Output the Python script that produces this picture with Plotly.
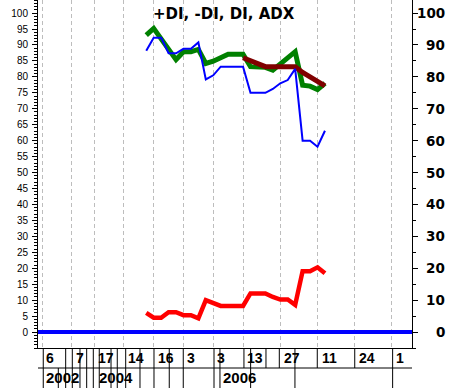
import plotly.graph_objects as go

# ---- data ----
weeks = [14, 15, 16, 17, 18, 19, 20, 21, 22, 23, 24, 25, 26, 27, 28, 29, 30, 31, 32, 33, 34, 35, 36, 37, 38]
plus_di = [88.2, 92.3, 92.3, 87.4, 87.4, 88.8, 88.8, 90.8, 79.2, 80.5, 83.2, 83.2, 83.2, 83.2,
           75.0, 75.0, 75.0, 76.2, 78.0, 79.0, 82.5, 60.0, 60.0, 58.1, 63.1]
minus_di = [6.0, 4.5, 4.5, 6.2, 6.2, 5.3, 5.3, 4.3, 10.0, 9.0, 8.2, 8.2, 8.2, 8.2,
            12.1, 12.1, 12.1, 11.0, 10.2, 10.2, 8.5, 19.1, 19.1, 20.3, 18.4]
di = [93.1, 95.2, 91.9, 88.6, 85.4, 87.9, 87.9, 88.6, 84.2, 84.9, 86.0, 87.1, 87.1, 87.1,
      83.2, 83.2, 83.0, 82.1, 84.0, 86.0, 87.9, 77.4, 77.1, 76.0, 78.0]
adx_weeks = [27, 28, 29, 30, 31, 32, 33, 34, 35, 36, 37, 38]
adx = [86.0, 85.0, 84.0, 83.2, 83.2, 83.2, 83.2, 83.2, 81.4, 80.0, 78.5, 77.2]

# ---- axis labels ----
grid_weeks = [0, 4, 7, 11, 15, 19, 23, 27, 32, 37, 42, 47]
day_labels = ["6", "7", "17", "14", "16", "3", "3", "13", "27", "11", "24", "1"]
year_labels = ["2002", "2004", "2006"]
year_pos = [0.2, 7.3, 23.9]
right_ticks = [0, 10, 20, 30, 40, 50, 60, 70, 80, 90, 100]
left_ticks = list(range(0, 101, 5))

# table divider positions (decoration of the date table under the plot)
both_rows = [0.17, 3.18, 4.07, 5.1, 6.0, 6.89, 7.69, 9.27, 10.11, 11.24, 13.16, 15.04,
             17.09, 18.97, 23.1, 23.9, 28.02, 33.97, 47.09]
label_row_only = [27.12, 30.08, 31.87, 36.97, 42.0]
year_row_only = [2.19]

XR = [-0.537, 49.69]
YR = [-5.0, 104.1]
PH = 348.0  # plot height px

fig = go.Figure()
fig.add_trace(go.Scatter(x=weeks, y=minus_di, mode="lines",
                         line=dict(color="#ff0000", width=4.5), name="-DI"))
fig.add_trace(go.Scatter(x=weeks, y=di, mode="lines",
                         line=dict(color="#008000", width=5), name="DI"))
fig.add_trace(go.Scatter(x=adx_weeks, y=adx, mode="lines",
                         line=dict(color="#800000", width=5), name="ADX"))
fig.add_trace(go.Scatter(x=weeks, y=plus_di, mode="lines",
                         line=dict(color="#0000ff", width=2), name="+DI"))
fig.add_trace(go.Scatter(x=[XR[0]], y=[None], yaxis="y2", showlegend=False, hoverinfo="skip"))

shapes = []
# zero line
shapes.append(dict(type="line", xref="paper", yref="y", x0=0, x1=1, y0=0, y1=0,
                   line=dict(color="#0000ff", width=4)))
# divider between rows
shapes.append(dict(type="line", xref="paper", yref="paper", x0=0, x1=1,
                   y0=-20 / PH, y1=-20 / PH, line=dict(color="black", width=1)))
for xv in both_rows:
    shapes.append(dict(type="line", xref="x", yref="paper", x0=xv, x1=xv,
                       y0=0, y1=-40 / PH, line=dict(color="black", width=1)))
for xv in label_row_only:
    shapes.append(dict(type="line", xref="x", yref="paper", x0=xv, x1=xv,
                       y0=0, y1=-20 / PH, line=dict(color="black", width=1)))
for xv in year_row_only:
    shapes.append(dict(type="line", xref="x", yref="paper", x0=xv, x1=xv,
                       y0=-20 / PH, y1=-40 / PH, line=dict(color="black", width=1)))

ann = []
for xv, t in zip(grid_weeks, day_labels):
    ann.append(dict(x=xv, y=0, xref="x", yref="paper", text=t, showarrow=False,
                    xanchor="left", yanchor="middle", xshift=2, yshift=-10,
                    font=dict(family="Liberation Sans, Arial", size=14, color="black", weight="bold")))
for xv, t in zip(year_pos, year_labels):
    ann.append(dict(x=xv, y=0, xref="x", yref="paper", text=t, showarrow=False,
                    xanchor="left", yanchor="middle", xshift=1, yshift=-29,
                    font=dict(family="Liberation Sans, Arial", size=15, color="black", weight="bold")))
for v in right_ticks:
    ann.append(dict(x=1, y=v, xref="paper", yref="y", text=str(v), showarrow=False,
                    xanchor="right", yanchor="middle", xshift=35,
                    font=dict(family="DejaVu Sans", size=13.5, color="black", weight="bold")))
ann.append(dict(x=0.5, y=1, xref="paper", yref="paper", text="+DI, -DI, DI, ADX",
                showarrow=False, xanchor="center", yanchor="middle", yshift=-14, xshift=-1,
                font=dict(family="DejaVu Sans", size=15, color="black", weight="bold")))

fig.update_layout(
    width=450, height=388,
    margin=dict(l=38, r=38, t=0, b=40, pad=0),
    paper_bgcolor="white", plot_bgcolor="white",
    showlegend=False,
    xaxis=dict(range=XR, tickmode="array", tickvals=grid_weeks, showticklabels=False,
               ticks="", showgrid=True, gridcolor="#bdbdbd", gridwidth=1, griddash="4px,3px",
               zeroline=False, showline=True, linecolor="black", linewidth=1, fixedrange=True),
    yaxis=dict(range=YR, tickmode="array", tickvals=left_ticks,
               ticktext=[str(v) for v in left_ticks],
               ticks="outside", ticklen=5, tickcolor="black", tickwidth=1,
               minor=dict(tickmode="linear", tick0=0, dtick=1, ticks="outside",
                          ticklen=3, tickcolor="black"),
               showgrid=False, zeroline=False, showline=True, linecolor="black", linewidth=1,
               tickfont=dict(family="Liberation Sans, Arial", size=10, color="black"),
               ticklabelstandoff=2),
    yaxis2=dict(range=YR, overlaying="y", side="right", tickmode="array", tickvals=right_ticks,
                showticklabels=False, ticks="outside", ticklen=5, tickcolor="black",
                minor=dict(tickmode="linear", tick0=0, dtick=5, ticks="outside",
                           ticklen=3, tickcolor="black"),
                showgrid=False, zeroline=False, showline=True, linecolor="black", linewidth=1),
    shapes=shapes,
    annotations=ann,
)

fig.write_html("out.html",
               config={"displayModeBar": False, "staticPlot": True},
               post_script="document.body.style.margin='0';document.body.style.padding='0';"
                           "document.body.style.overflow='hidden';")
